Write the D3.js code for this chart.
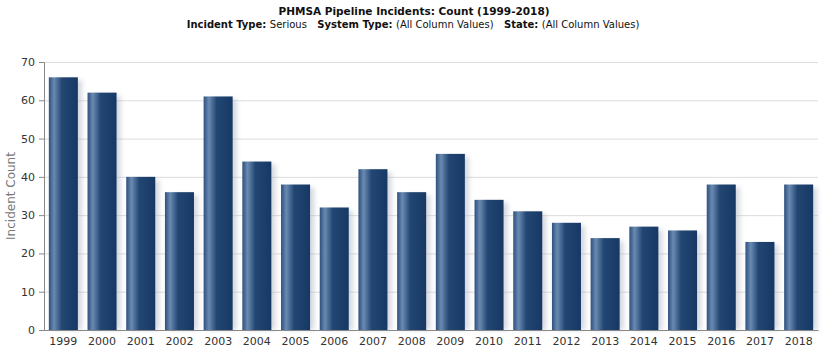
<!DOCTYPE html>
<html>
<head>
<meta charset="utf-8">
<script src="https://cdn.jsdelivr.net/npm/d3@7"></script>
<style>
  body { margin: 0; background: #fff; }
  svg text { font-family: "DejaVu Sans", Verdana, sans-serif; }
</style>
</head>
<body>
<svg id="chart" width="829" height="353"></svg>
<script>
// data
var years = ['1999','2000','2001','2002','2003','2004','2005','2006','2007','2008',
  '2009','2010','2011','2012','2013','2014','2015','2016','2017','2018'];
var counts = [66, 62, 40, 36, 61, 44, 38, 32, 42, 36, 46, 34, 31, 28, 24, 27, 26, 38, 23, 38];
var yTicks = [0, 10, 20, 30, 40, 50, 60, 70];

var margin = {top: 62, right: 11, bottom: 23, left: 44},
  width = 829 - margin.left - margin.right,
  height = 353 - margin.top - margin.bottom;

var svg = d3.select('#chart');
var defs = svg.append('defs');

var grad = defs.append('linearGradient')
  .attr('id', 'barGrad')
  .attr('x1', '0%').attr('x2', '100%').attr('y1', '0%').attr('y2', '0%');
[['0%', '#2d507f'], ['18%', '#6a8ab1'], ['45%', '#224673'], ['100%', '#173865']]
  .forEach(function (s) {
    grad.append('stop').attr('offset', s[0]).attr('stop-color', s[1]);
  });

var blur = defs.append('filter').attr('id', 'shadow')
  .attr('x', '-20%').attr('y', '-10%').attr('width', '150%').attr('height', '130%');
blur.append('feGaussianBlur').attr('stdDeviation', 2.5);

var g = svg.append('g')
  .attr('transform', 'translate(' + margin.left + ',' + margin.top + ')');

var x = d3.scaleBand()
  .domain(years)
  .range([0, width])
  .paddingInner(0.25)
  .paddingOuter(0.125);

var y = d3.scaleLinear()
  .domain([0, 70])
  .range([height, 0]);

// grid
g.append('g')
  .selectAll('line')
  .data(yTicks.slice(1))
  .enter().append('line')
  .attr('x1', 0).attr('x2', width)
  .attr('y1', function (d) { return y(d) + 0.5; })
  .attr('y2', function (d) { return y(d) + 0.5; })
  .attr('stroke', '#dcdcdc');

// shadows
g.append('g')
  .selectAll('rect')
  .data(counts)
  .enter().append('rect')
  .attr('x', function (d, i) { return x(years[i]) + 4; })
  .attr('y', function (d) { return y(d) + 3; })
  .attr('width', x.bandwidth())
  .attr('height', function (d) { return height - y(d) - 3; })
  .attr('fill', '#a9b0bf')
  .attr('opacity', 0.5)
  .attr('filter', 'url(#shadow)');

// bars
g.append('g')
  .selectAll('rect')
  .data(counts)
  .enter().append('rect')
  .attr('x', function (d, i) { return x(years[i]); })
  .attr('y', function (d) { return y(d); })
  .attr('width', x.bandwidth())
  .attr('height', function (d) { return height - y(d); })
  .attr('fill', 'url(#barGrad)');

// axes
var yAxis = g.append('g')
  .call(d3.axisLeft(y).tickValues(yTicks).tickSize(5).tickPadding(4));
yAxis.select('.domain').attr('stroke', '#888');
yAxis.selectAll('.tick line').attr('stroke', '#888');
yAxis.selectAll('text').attr('fill', '#333').style('font-size', '11px');

var xAxis = g.append('g')
  .attr('transform', 'translate(0,' + height + ')')
  .call(d3.axisBottom(x).tickSize(0).tickPadding(7));
xAxis.select('.domain').attr('stroke', '#888');
xAxis.selectAll('text').attr('fill', '#333').style('font-size', '11px');

// y axis title
svg.append('text')
  .attr('transform', 'translate(15,' + (margin.top + height / 2) + ') rotate(-90)')
  .attr('text-anchor', 'middle')
  .attr('fill', '#777')
  .style('font-size', '12px')
  .text('Incident Count');

// titles
svg.append('text')
  .attr('x', 414).attr('y', 15)
  .attr('text-anchor', 'middle')
  .attr('fill', '#111')
  .style('font-size', '10.5px')
  .style('font-weight', 'bold')
  .text('PHMSA Pipeline Incidents: Count (1999-2018)');

var sub = svg.append('text')
  .attr('x', 413).attr('y', 28)
  .attr('text-anchor', 'middle')
  .attr('fill', '#111')
  .attr('xml:space', 'preserve')
  .style('font-size', '10px');
[['Incident Type: ', 'bold'], ['Serious', 'normal'], ['   System Type: ', 'bold'],
 ['(All Column Values)', 'normal'], ['   State: ', 'bold'], ['(All Column Values)', 'normal']]
  .forEach(function (p) {
    sub.append('tspan').attr('font-weight', p[1]).text(p[0]);
  });
</script>
</body>
</html>
